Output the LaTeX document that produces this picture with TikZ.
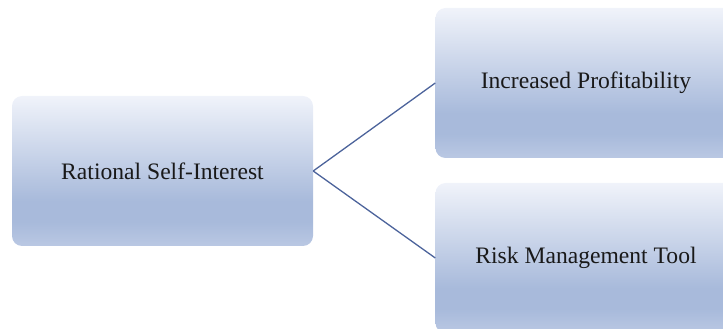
\documentclass[tikz,border=0pt]{standalone}
\usepackage{fontspec}
\setmainfont{Liberation Serif}
\definecolor{shTop}{HTML}{F0F3FA}
\definecolor{shMid}{HTML}{A8BADB}
\definecolor{shBot}{HTML}{BAC8E3}
\definecolor{linkBlue}{HTML}{4C639B}
% vertical fill of the boxes: the box spans 25bp (bottom) to 75bp (top)
\pgfdeclareverticalshading{boxfill}{100bp}{%
  color(0bp)=(shBot); color(25bp)=(shBot); color(33bp)=(shMid);
  color(40bp)=(shMid); color(75bp)=(shTop); color(100bp)=(shTop)}
\begin{document}
\begin{tikzpicture}[x=1pt,y=1pt,
  topic/.style={rectangle, rounded corners=10pt, shading=boxfill,
    minimum width=301pt, minimum height=150pt, inner sep=0pt,
    font=\fontsize{23.6}{27}\selectfont, text=black!90},
  link/.style={draw=linkBlue, line width=1.3pt}]
  \useasboundingbox (0,0) rectangle (723,329);
  \clip (0,0) rectangle (723,329);
  \node[topic] (root) at (162.5,158) {Rational Self-Interest};
  \node[topic] (profit) at (586,246) {Increased Profitability};
  \node[topic] (risk) at (586,71) {Risk Management Tool};
  \draw[link] (root.east) -- (profit.west);
  \draw[link] (root.east) -- (risk.west);
\end{tikzpicture}
\end{document}
